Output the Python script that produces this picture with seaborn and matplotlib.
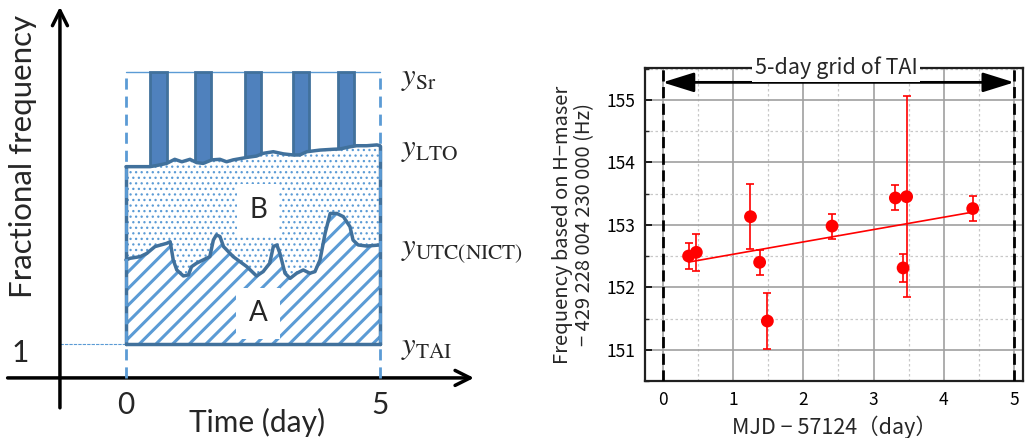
import numpy as np
import pandas as pd
import seaborn as sns
import matplotlib.pyplot as plt
from matplotlib.ticker import MultipleLocator

sns.set_theme(style="white")
plt.rcParams['font.family'] = ['Noto Sans CJK JP', 'DejaVu Sans']
plt.rcParams['mathtext.fontset'] = 'stix'

# ---- schematic (left): levels in arbitrary units, TAI = 0, Sr = 10
lto_day = [0.0, 0.47, 0.60, 0.80, 0.96, 1.10, 1.26, 1.39, 1.52, 1.69, 1.85, 1.98, 2.11,
           2.38, 2.57, 2.70, 2.90, 3.10, 3.29, 3.42, 3.56, 3.82, 4.08, 4.21, 4.41, 4.54,
           4.74, 4.94, 5.0]
lto_val = [6.52, 6.52, 6.56, 6.64, 6.79, 6.70, 6.79, 6.67, 6.64, 6.77, 6.79, 6.70, 6.77,
           6.86, 6.91, 7.01, 7.07, 6.99, 6.95, 6.95, 7.07, 7.13, 7.16, 7.17, 7.25, 7.29,
           7.29, 7.32, 7.29]
utc_day = [0.0, 0.08, 0.28, 0.41, 0.57, 0.80, 0.87, 0.93, 1.00, 1.13, 1.23, 1.29, 1.39,
           1.52, 1.65, 1.72, 1.78, 1.85, 1.92, 2.11, 2.38, 2.57, 2.70, 2.83, 2.90, 2.97,
           3.03, 3.13, 3.23, 3.36, 3.49, 3.62, 3.72, 3.82, 3.92, 4.02, 4.15, 4.28, 4.41,
           4.47, 4.57, 4.74, 5.0]
utc_val = [3.09, 3.15, 3.21, 3.33, 3.58, 3.70, 3.76, 3.09, 2.72, 2.50, 2.54, 2.84, 2.97,
           3.09, 3.21, 3.82, 4.01, 3.95, 3.58, 3.21, 2.84, 2.50, 2.66, 2.97, 3.58, 3.64,
           3.33, 2.60, 2.41, 2.60, 2.72, 2.60, 2.66, 3.09, 4.07, 4.80, 4.80, 4.68, 4.31,
           3.82, 3.64, 3.60, 3.64]
sr_bar_day = [0.64, 1.52, 2.50, 3.45, 4.33]
sr_level = 10.0
tai_level = 0.0
level_labels = [r'$y_{\mathrm{Sr}}$', r'$y_{\mathrm{LTO}}$',
                r'$y_{\mathrm{UTC(NICT)}}$', r'$y_{\mathrm{TAI}}$']
level_label_pos = [9.8, 7.2, 3.46, -0.1]

# ---- measurement (right)
mjd = [0.37, 0.48, 1.25, 1.38, 1.49, 2.41, 3.31, 3.42, 3.47, 4.41]
freq = [152.50, 152.56, 153.13, 152.40, 151.46, 152.98, 153.43, 152.31, 153.45, 153.26]
freq_err = [0.21, 0.30, 0.52, 0.20, 0.45, 0.20, 0.20, 0.23, 1.61, 0.20]
fit_intercept = 152.33
fit_slope = 0.198

dark = '#41719C'
mid = '#4F81BD'
light = '#5B9BD5'

fig = plt.figure(figsize=(10.26, 4.38), dpi=100)

# ================= left schematic =================
axl = fig.add_axes([0, 0, 540 / 1026, 1])
axl.set_xlim(-2.48, 8.15)
axl.set_ylim(-3.46, 12.65)
axl.axis('off')

axl.bar(sr_bar_day, sr_level - 6.2, bottom=6.2, width=0.32, color=mid,
        edgecolor=dark, linewidth=2, zorder=2)
axl.plot([0, 5], [sr_level, sr_level], color=light, lw=1, zorder=1)

lto_i = np.interp(utc_day, lto_day, lto_val)
with plt.rc_context({'hatch.linewidth': 0.9}):
    axl.fill_between(utc_day, utc_val, lto_i, facecolor='white', edgecolor=light,
                     hatch='...', linewidth=0, zorder=3)
with plt.rc_context({'hatch.linewidth': 2.2}):
    axl.fill_between(utc_day, tai_level, utc_val, facecolor='white', edgecolor=light,
                     hatch='//', linewidth=0, zorder=3)

sns.lineplot(x=lto_day, y=lto_val, ax=axl, color=dark, lw=2.5, sort=False, zorder=4)
sns.lineplot(x=utc_day, y=utc_val, ax=axl, color=dark, lw=2.5, sort=False, zorder=4)
axl.plot([0, 5], [tai_level, tai_level], color=dark, lw=2.5, zorder=4)
axl.plot([0, 0], [tai_level, lto_val[0]], color=dark, lw=2.5, zorder=4)
axl.plot([5, 5], [tai_level, lto_val[-1]], color=dark, lw=2.5, zorder=4)

for d in (0, 5):
    axl.plot([d, d], [-1.25, sr_level], color=light, lw=2, ls=(0, (4, 2.5)), zorder=5)
axl.plot([-1.3, 0], [tai_level, tai_level], color=light, lw=0.8, ls=(0, (3, 1)), zorder=1)

axl.annotate('', xy=(6.85, -1.25), xytext=(-2.33, -1.25),
             arrowprops=dict(arrowstyle='->,head_length=0.9,head_width=0.45', lw=2.5,
                             color='black', shrinkA=0, shrinkB=0))
axl.annotate('', xy=(-1.3, 12.4), xytext=(-1.3, -2.35),
             arrowprops=dict(arrowstyle='->,head_length=0.9,head_width=0.45', lw=2.5,
                             color='black', shrinkA=0, shrinkB=0))

axl.text(2.6, 4.93, 'B', fontsize=20, family='Lato', ha='center', va='center', zorder=6,
         bbox=dict(facecolor='white', edgecolor='none', pad=9))
axl.text(2.6, 1.13, 'A', fontsize=20, family='Lato', ha='center', va='center', zorder=6,
         bbox=dict(facecolor='white', edgecolor='none', pad=9))

for lab, yy in zip(level_labels, level_label_pos):
    axl.text(5.42, yy, lab, fontsize=22, ha='left', va='center')

axl.text(-2.03, 6.88, 'Fractional frequency', fontsize=22.5, family='Lato',
         rotation=90, ha='center', va='center')
axl.text(2.58, -2.87, 'Time (day)', fontsize=21.5, family='Lato', ha='center', va='center')
axl.text(-2.09, -0.33, '1', fontsize=21.5, family='Lato', ha='center', va='center')
axl.text(0, -2.24, '0', fontsize=21.5, family='Lato', ha='center', va='center')
axl.text(5, -2.24, '5', fontsize=21.5, family='Lato', ha='center', va='center')

# ================= right measurement =================
axr = fig.add_axes([645 / 1026, 57 / 438, 378 / 1026, 313 / 438])
df = pd.DataFrame({'mjd': mjd, 'freq': freq, 'err': freq_err})

axr.set_xlim(-0.25, 5.125)
axr.set_ylim(150.5, 155.51)
axr.xaxis.set_major_locator(MultipleLocator(1))
axr.xaxis.set_minor_locator(MultipleLocator(0.5))
axr.yaxis.set_major_locator(MultipleLocator(1))
axr.yaxis.set_minor_locator(MultipleLocator(0.5))
axr.grid(which='major', color='#a0a0a0', lw=1.2, ls='-')
axr.grid(which='minor', color='#c8c8c8', lw=0.9, ls=(0, (2, 2)))
axr.set_axisbelow(True)
axr.tick_params(which='major', direction='in', length=5, width=1.2, left=True,
                bottom=False, labelsize=12.5, colors='black', pad=7)
axr.tick_params(which='minor', direction='in', length=3, width=1, left=True, bottom=False)
for s in axr.spines.values():
    s.set_color('#202020')
    s.set_linewidth(1.6)

for d in (0, 5):
    axr.axvline(d, color='black', lw=2, ls=(0, (4, 2)), zorder=3)
axr.annotate('', xy=(5, 155.28), xytext=(0, 155.28),
             arrowprops=dict(arrowstyle='<|-|>,head_length=1.6,head_width=0.5',
                             lw=2, color='black', shrinkA=0, shrinkB=0), zorder=4)
axr.text(2.47, 155.51, '5-day grid of TAI', fontsize=15.5, ha='center', va='center',
         zorder=6, bbox=dict(facecolor='white', edgecolor='none', pad=2))

fit_x = np.array([min(mjd), max(mjd)])
sns.lineplot(x=fit_x, y=fit_intercept + fit_slope * fit_x, ax=axr, color='red', lw=1.2,
             zorder=4)
axr.errorbar(df['mjd'], df['freq'], yerr=df['err'], fmt='none', ecolor='red',
             elinewidth=1.2, capsize=3, capthick=1.2, zorder=5)
sns.scatterplot(data=df, x='mjd', y='freq', ax=axr, color='red', s=85,
                edgecolor='none', zorder=6)

axr.set_xlabel('MJD − 57124（day）', fontsize=15.5, labelpad=5)
axr.set_ylabel('Frequency based on H−maser\n− 429 228 004 230 000 (Hz)', fontsize=14.5,
               labelpad=8, linespacing=1.05)

fig.savefig('out.png', dpi=100)
